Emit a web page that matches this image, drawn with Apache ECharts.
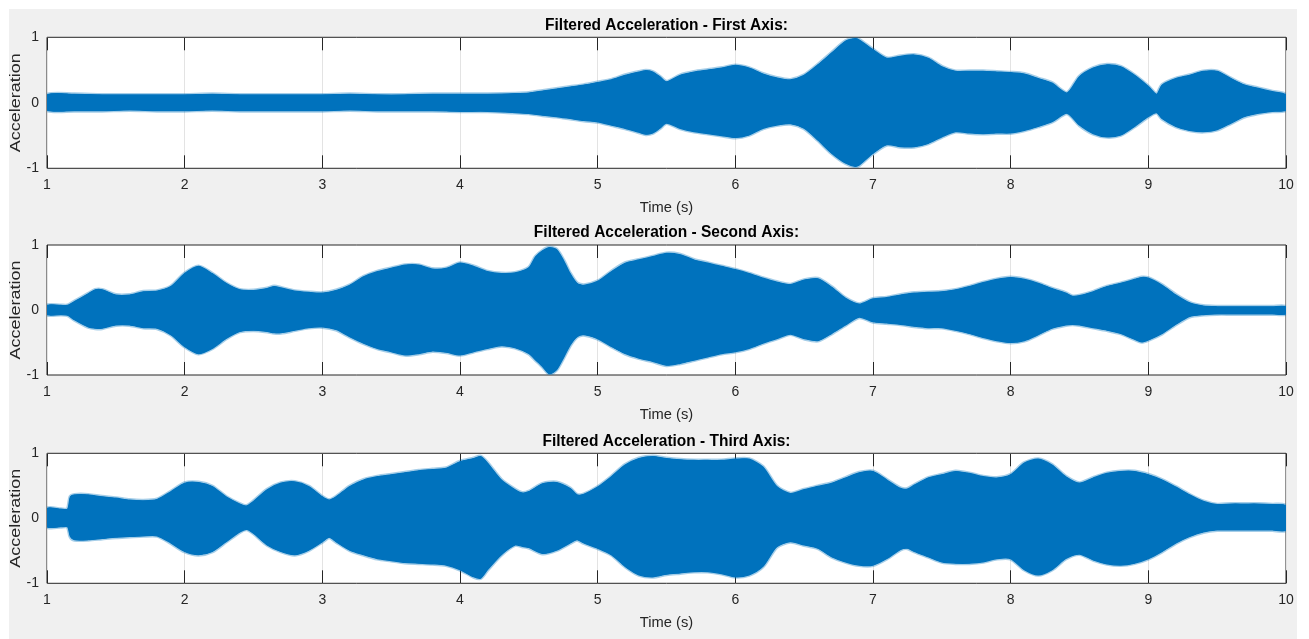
<!DOCTYPE html>
<html>
<head>
<meta charset="utf-8">
<title>Filtered Acceleration</title>
<script src="https://cdn.jsdelivr.net/npm/echarts@6/dist/echarts.min.js"></script>
<style>
  html, body { margin: 0; padding: 0; background: #ffffff; }
  #chart { position: absolute; left: 9px; top: 9px; width: 1288px; height: 630px; background: #f0f0f0; }
</style>
</head>
<body>
<div id="chart"></div>
<script>
// Envelope of the filtered acceleration signal (upper / lower extent) per axis, sampled in time (s)
const timeFirst = [
  1.0, 1.2, 1.4, 1.6, 1.8,
  2.0, 2.2, 2.4, 2.6, 2.8,
  3.0, 3.2, 3.4, 3.6, 3.8,
  4.0, 4.2, 4.4, 4.5, 4.6, 4.7, 4.8, 4.9,
  5.0, 5.1, 5.2, 5.3, 5.35, 5.4, 5.45, 5.5, 5.6, 5.7, 5.8, 5.9,
  6.0, 6.1, 6.2, 6.3, 6.4, 6.5, 6.6, 6.7, 6.8, 6.87, 6.9,
  7.0, 7.1, 7.2, 7.3, 7.4, 7.5, 7.6, 7.7, 7.8, 7.9,
  8.0, 8.1, 8.2, 8.3, 8.41, 8.5, 8.6, 8.7, 8.8, 8.9,
  9.0, 9.06, 9.1, 9.2, 9.3, 9.4, 9.5, 9.6, 9.7, 9.8, 9.9,
  10.0];
const upperFirst = [
  0.12, 0.13, 0.12, 0.12, 0.12,
  0.12, 0.13, 0.12, 0.12, 0.12,
  0.12, 0.13, 0.12, 0.12, 0.13,
  0.13, 0.13, 0.14, 0.15, 0.18, 0.21, 0.24, 0.27,
  0.31, 0.35, 0.42, 0.47, 0.49, 0.47, 0.40, 0.32, 0.42, 0.47, 0.50, 0.53,
  0.57, 0.53, 0.44, 0.38, 0.35, 0.42, 0.58, 0.76, 0.94, 0.98, 0.96,
  0.81, 0.68, 0.71, 0.73, 0.68, 0.55, 0.48, 0.48, 0.48, 0.47,
  0.46, 0.44, 0.37, 0.30, 0.15, 0.40, 0.53, 0.58, 0.55, 0.42,
  0.25, 0.13, 0.27, 0.37, 0.42, 0.48, 0.48, 0.37, 0.27, 0.22, 0.17,
  0.12];
const lowerFirst = [
  -0.11, -0.12, -0.12, -0.11, -0.12,
  -0.12, -0.11, -0.12, -0.12, -0.12,
  -0.12, -0.11, -0.12, -0.12, -0.12,
  -0.13, -0.13, -0.15, -0.16, -0.19, -0.21, -0.24, -0.27,
  -0.29, -0.34, -0.39, -0.45, -0.48, -0.46, -0.39, -0.31, -0.39, -0.44, -0.47, -0.50,
  -0.53, -0.49, -0.39, -0.34, -0.32, -0.39, -0.57, -0.77, -0.92, -0.97, -0.95,
  -0.77, -0.64, -0.67, -0.67, -0.62, -0.52, -0.44, -0.46, -0.47, -0.46,
  -0.46, -0.42, -0.36, -0.29, -0.16, -0.34, -0.47, -0.52, -0.49, -0.36,
  -0.21, -0.15, -0.24, -0.36, -0.42, -0.44, -0.41, -0.31, -0.21, -0.16, -0.13,
  -0.11];

const timeSecond = [
  1.0, 1.1, 1.15, 1.2, 1.3, 1.35, 1.4, 1.5, 1.6, 1.7, 1.8, 1.9,
  2.0, 2.1, 2.2, 2.3, 2.4, 2.5, 2.6, 2.65, 2.7, 2.8, 2.9,
  3.0, 3.1, 3.2, 3.3, 3.4, 3.5, 3.6, 3.7, 3.8, 3.9,
  4.0, 4.1, 4.2, 4.3, 4.4, 4.5, 4.55, 4.6, 4.65, 4.7, 4.75, 4.8, 4.85, 4.9,
  5.0, 5.1, 5.2, 5.3, 5.4, 5.5, 5.6, 5.7, 5.8, 5.9,
  6.0, 6.1, 6.2, 6.3, 6.4, 6.5, 6.6, 6.7, 6.8, 6.9,
  7.0, 7.1, 7.2, 7.3, 7.4, 7.5, 7.6, 7.7, 7.8, 7.9,
  8.0, 8.1, 8.2, 8.3, 8.4, 8.45, 8.5, 8.6, 8.7, 8.8, 8.9, 8.95,
  9.0, 9.1, 9.2, 9.3, 9.4, 9.5, 9.6, 9.7, 9.8, 9.9,
  10.0];
const upperSecond = [
  0.07, 0.07, 0.07, 0.13, 0.25, 0.31, 0.31, 0.23, 0.23, 0.28, 0.29, 0.36,
  0.56, 0.67, 0.56, 0.41, 0.31, 0.30, 0.33, 0.36, 0.34, 0.29, 0.27,
  0.26, 0.30, 0.38, 0.51, 0.59, 0.64, 0.69, 0.69, 0.63, 0.64,
  0.72, 0.67, 0.59, 0.56, 0.57, 0.65, 0.82, 0.91, 0.96, 0.93, 0.77, 0.56, 0.41, 0.38,
  0.44, 0.59, 0.72, 0.77, 0.82, 0.87, 0.85, 0.77, 0.72, 0.67,
  0.62, 0.56, 0.49, 0.43, 0.39, 0.46, 0.48, 0.35, 0.18, 0.09,
  0.17, 0.19, 0.23, 0.26, 0.27, 0.28, 0.31, 0.36, 0.42, 0.47,
  0.50, 0.47, 0.41, 0.33, 0.26, 0.21, 0.22, 0.28, 0.36, 0.41, 0.47, 0.50,
  0.49, 0.38, 0.23, 0.11, 0.06, 0.05, 0.05, 0.05, 0.05, 0.05,
  0.05];
const lowerSecond = [
  -0.07, -0.07, -0.08, -0.15, -0.26, -0.28, -0.28, -0.23, -0.23, -0.27, -0.28, -0.38,
  -0.56, -0.67, -0.59, -0.44, -0.33, -0.31, -0.33, -0.35, -0.35, -0.31, -0.27,
  -0.26, -0.30, -0.41, -0.51, -0.59, -0.64, -0.69, -0.67, -0.63, -0.65,
  -0.69, -0.64, -0.59, -0.55, -0.58, -0.67, -0.77, -0.87, -0.98, -0.92, -0.74, -0.54, -0.41, -0.38,
  -0.44, -0.56, -0.67, -0.74, -0.79, -0.85, -0.82, -0.77, -0.72, -0.67,
  -0.64, -0.59, -0.51, -0.44, -0.37, -0.44, -0.47, -0.36, -0.23, -0.11,
  -0.18, -0.20, -0.22, -0.25, -0.27, -0.27, -0.31, -0.36, -0.42, -0.47,
  -0.50, -0.47, -0.38, -0.28, -0.23, -0.22, -0.23, -0.27, -0.31, -0.36, -0.45, -0.49,
  -0.46, -0.36, -0.22, -0.10, -0.07, -0.06, -0.06, -0.06, -0.06, -0.06,
  -0.06];

const timeThird = [
  1.0, 1.1, 1.15, 1.17, 1.2, 1.3, 1.4, 1.5, 1.6, 1.7, 1.8, 1.9,
  2.0, 2.1, 2.2, 2.3, 2.4, 2.45, 2.5, 2.6, 2.7, 2.8, 2.9,
  3.0, 3.05, 3.1, 3.2, 3.3, 3.4, 3.5, 3.6, 3.7, 3.8, 3.9,
  4.0, 4.1, 4.15, 4.2, 4.3, 4.4, 4.45, 4.5, 4.6, 4.7, 4.8, 4.85, 4.9,
  5.0, 5.1, 5.2, 5.3, 5.4, 5.5, 5.6, 5.7, 5.8, 5.9,
  6.0, 6.1, 6.2, 6.3, 6.4, 6.5, 6.6, 6.7, 6.8, 6.9,
  7.0, 7.1, 7.2, 7.25, 7.3, 7.4, 7.5, 7.6, 7.7, 7.8, 7.9,
  8.0, 8.1, 8.2, 8.3, 8.4, 8.5, 8.6, 8.7, 8.8, 8.9,
  9.0, 9.1, 9.2, 9.3, 9.4, 9.5, 9.6, 9.7, 9.8, 9.9,
  10.0];
const upperThird = [
  0.15, 0.14, 0.14, 0.33, 0.36, 0.36, 0.33, 0.31, 0.28, 0.27, 0.29, 0.41,
  0.54, 0.55, 0.49, 0.33, 0.22, 0.19, 0.26, 0.44, 0.54, 0.56, 0.49,
  0.33, 0.28, 0.33, 0.49, 0.59, 0.64, 0.67, 0.70, 0.73, 0.75, 0.77,
  0.87, 0.92, 0.95, 0.85, 0.59, 0.44, 0.39, 0.41, 0.53, 0.55, 0.46, 0.36, 0.37,
  0.48, 0.64, 0.82, 0.92, 0.95, 0.92, 0.90, 0.89, 0.89, 0.89,
  0.91, 0.91, 0.79, 0.49, 0.38, 0.44, 0.49, 0.54, 0.62, 0.70,
  0.72, 0.59, 0.46, 0.45, 0.51, 0.62, 0.67, 0.72, 0.69, 0.64, 0.62,
  0.67, 0.85, 0.91, 0.82, 0.64, 0.54, 0.62, 0.69, 0.72, 0.72,
  0.67, 0.59, 0.48, 0.36, 0.26, 0.21, 0.22, 0.22, 0.22, 0.21,
  0.19];
const lowerThird = [
  -0.13, -0.13, -0.13, -0.28, -0.33, -0.33, -0.31, -0.29, -0.28, -0.27, -0.27, -0.38,
  -0.51, -0.56, -0.51, -0.36, -0.21, -0.17, -0.23, -0.41, -0.51, -0.56, -0.49,
  -0.36, -0.29, -0.36, -0.49, -0.56, -0.62, -0.65, -0.68, -0.69, -0.70, -0.72,
  -0.79, -0.90, -0.92, -0.79, -0.56, -0.41, -0.43, -0.45, -0.54, -0.49, -0.38, -0.33, -0.38,
  -0.46, -0.56, -0.74, -0.87, -0.90, -0.86, -0.84, -0.82, -0.82, -0.85,
  -0.90, -0.87, -0.74, -0.44, -0.36, -0.41, -0.46, -0.59, -0.67, -0.72,
  -0.72, -0.62, -0.48, -0.46, -0.51, -0.59, -0.67, -0.69, -0.69, -0.67, -0.62,
  -0.62, -0.79, -0.87, -0.79, -0.62, -0.55, -0.64, -0.70, -0.72, -0.69,
  -0.62, -0.51, -0.38, -0.28, -0.21, -0.18, -0.18, -0.18, -0.18, -0.18,
  -0.18];

const panelTitles = [
  'Filtered Acceleration - First Axis:',
  'Filtered Acceleration - Second Axis:',
  'Filtered Acceleration - Third Axis:'
];
const xAxisLabel = 'Time (s)';
const yAxisLabel = 'Acceleration';

const panels = [
  { time: timeFirst,  upper: upperFirst,  lower: lowerFirst },
  { time: timeSecond, upper: upperSecond, lower: lowerSecond },
  { time: timeThird,  upper: upperThird,  lower: lowerThird }
];

// Layout of the three stacked axes (px, inside the grey figure area)
const FONT = "'Liberation Sans', Arial, Helvetica, sans-serif";
const INK = '#262626';
const LINE = '#0072BD';
const plotLeft = 38, plotWidth = 1239;
const plotTops = [28.3, 236, 444.3];
const plotHeights = [131, 130, 130];

const grids = [], xAxes = [], yAxes = [], series = [], texts = [];

panels.forEach((p, i) => {
  const top = plotTops[i], h = plotHeights[i];
  const cx = plotLeft + plotWidth / 2;
  grids.push({
    left: plotLeft, top: top, width: plotWidth, height: h,
    show: true, backgroundColor: '#ffffff', borderColor: INK, borderWidth: 1,
    outerBoundsMode: 'none'
  });
  // bottom axis: labels, inward ticks, vertical grid lines
  xAxes.push({
    type: 'value', gridIndex: i, position: 'bottom', min: 1, max: 10, interval: 1,
    axisLine: { show: false, onZero: false },
    axisTick: { show: true, inside: true, length: 13, lineStyle: { color: INK, width: 1 } },
    axisLabel: { color: INK, fontFamily: FONT, fontSize: 14, margin: 10 },
    splitLine: { show: true, lineStyle: { color: '#e3e3e3', width: 1 } }
  });
  // top axis: inward ticks only (box style)
  xAxes.push({
    type: 'value', gridIndex: i, position: 'top', min: 1, max: 10, interval: 1,
    axisLine: { show: false, onZero: false },
    axisTick: { show: true, inside: true, length: 13, lineStyle: { color: INK, width: 1 } },
    axisLabel: { show: false },
    splitLine: { show: false }
  });
  yAxes.push({
    type: 'value', gridIndex: i, min: -1, max: 1, interval: 1,
    axisLine: { show: false, onZero: false },
    axisTick: { show: false },
    axisLabel: { color: INK, fontFamily: FONT, fontSize: 14, margin: 8 },
    splitLine: { show: false }
  });

  // the dense signal is drawn as the filled band between its upper and lower envelope,
  // with a soft halo for the spiky edge of the waveform
  series.push({
    type: 'custom', xAxisIndex: 2 * i, yAxisIndex: i,
    data: p.time.map((t, k) => [t, p.upper[k], p.lower[k]]),
    encode: { x: 0, y: [1, 2] },
    silent: true, clip: true, z: 1,
    renderItem: (params, api) => {
      if (params.dataIndex !== 0) return null;
      const pts = [];
      for (let k = 0; k < p.time.length; k++) pts.push(api.coord([p.time[k], p.upper[k]]));
      for (let k = p.time.length - 1; k >= 0; k--) pts.push(api.coord([p.time[k], p.lower[k]]));
      return {
        type: 'group',
        children: [
          {
            type: 'polygon',
            shape: { points: pts, smooth: 0.25 },
            style: { fill: LINE, stroke: 'rgba(0,114,189,0.35)', lineWidth: 4, lineJoin: 'round' }
          },
          {
            type: 'polygon',
            shape: { points: pts, smooth: 0.25 },
            style: { fill: LINE, stroke: LINE, lineWidth: 1.2, lineJoin: 'round' }
          }
        ]
      };
    }
  });

  // panel title
  texts.push({
    type: 'text', x: cx, y: top - 12.5, scaleY: 1.1,
    style: { text: panelTitles[i], textAlign: 'center', textVerticalAlign: 'middle',
             font: 'bold 15.5px ' + FONT, fill: '#000000' }
  });
  // x label
  texts.push({
    type: 'text', x: cx, y: top + h + 39.5, scaleY: 1.05,
    style: { text: xAxisLabel, textAlign: 'center', textVerticalAlign: 'middle',
             font: '14.7px ' + FONT, fill: INK }
  });
  // y label (rotated)
  texts.push({
    type: 'text', x: 6.5, y: top + h / 2, rotation: Math.PI / 2, scaleX: 1.2,
    style: { text: yAxisLabel, textAlign: 'center', textVerticalAlign: 'middle',
             font: '15px ' + FONT, fill: INK }
  });
});

const chart = echarts.init(document.getElementById('chart'), null, { renderer: 'canvas' });
chart.setOption({
  animation: false,
  backgroundColor: '#f0f0f0',
  grid: grids,
  xAxis: xAxes,
  yAxis: yAxes,
  series: series,
  graphic: { elements: texts }
});
</script>
</body>
</html>
